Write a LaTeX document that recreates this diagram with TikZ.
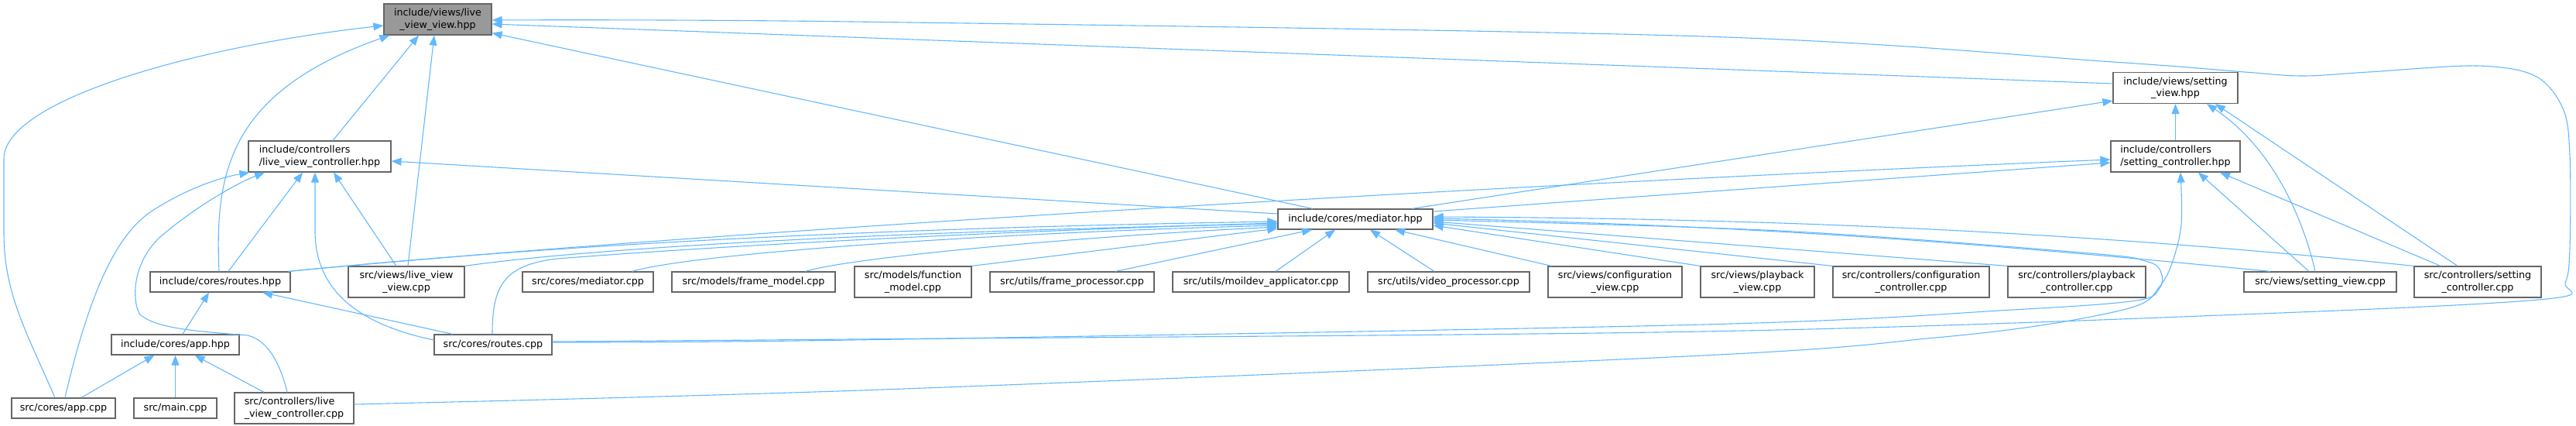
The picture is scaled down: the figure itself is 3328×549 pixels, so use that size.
\documentclass[tikz,border=0pt]{standalone}
\usepackage{fontspec}
\setmainfont{DejaVu Sans}
\usetikzlibrary{arrows.meta}
\definecolor{edgec}{HTML}{63B8FF}
\definecolor{boxc}{HTML}{666666}
\definecolor{rootc}{HTML}{999999}
\newcommand\dgfont{\fontsize{12.7}{15.5}\selectfont}
\begin{document}
\begin{tikzpicture}[x=1pt,y=-1pt,
  box/.style={draw=boxc, fill=white, line width=1.2pt, inner sep=0pt, minimum height=26pt, font=\dgfont},
  boxtwo/.style={box, minimum height=40pt, align=center},
  boxtwol/.style={box, minimum height=40pt, align=left},
  edge/.style={draw=edgec, line width=1.1pt, -{Triangle[length=13pt,width=10pt]}},
]
\useasboundingbox (0,0) rectangle (3328,549);
% nodes
\node[boxtwo, fill=rootc, minimum width=139pt] (A) at (565.5,25) {include/views/live\\\_view\_view.hpp};
\node[boxtwol, minimum width=184pt] (B) at (413,202) {include/controllers\\/live\_view\_controller.hpp};
\node[box, minimum width=200pt] (C) at (1751,283) {include/cores/mediator.hpp};
\node[boxtwo, minimum width=161pt] (D) at (2810.5,113.5) {include/views/setting\\\_view.hpp};
\node[boxtwol, minimum width=167pt] (E) at (2810.5,202) {include/controllers\\/setting\_controller.hpp};
\node[box, minimum width=181pt] (F) at (284.5,364) {include/cores/routes.hpp};
\node[box, minimum width=165pt] (G) at (226.5,445) {include/cores/app.hpp};
\node[box, minimum width=134pt] (H) at (82,527) {src/cores/app.cpp};
\node[box, minimum width=107pt] (I) at (226.5,527) {src/main.cpp};
\node[boxtwol, minimum width=154pt] (J) at (380,527) {src/controllers/live\\\_view\_controller.cpp};
\node[box, minimum width=152pt] (K) at (637,445) {src/cores/routes.cpp};
\node[boxtwo, minimum width=150pt] (L) at (525,364) {src/views/live\_view\\\_view.cpp};
\node[box, minimum width=169pt] (M) at (759.5,364) {src/cores/mediator.cpp};
\node[box, minimum width=211pt] (N) at (973.5,364) {src/models/frame\_model.cpp};
\node[boxtwo, minimum width=151pt] (O) at (1179.5,364) {src/models/function\\\_model.cpp};
\node[box, minimum width=212pt] (P) at (1385,364) {src/utils/frame\_processor.cpp};
\node[box, minimum width=228pt] (Q) at (1629,364) {src/utils/moildev\_applicator.cpp};
\node[box, minimum width=209pt] (R) at (1871.5,364) {src/utils/video\_processor.cpp};
\node[boxtwo, minimum width=173pt] (S) at (2086.5,364) {src/views/configuration\\\_view.cpp};
\node[boxtwo, minimum width=147pt] (T) at (2270.5,364) {src/views/playback\\\_view.cpp};
\node[boxtwo, minimum width=202pt] (U) at (2469,364) {src/controllers/configuration\\\_controller.cpp};
\node[boxtwo, minimum width=178pt] (V) at (2683,364) {src/controllers/playback\\\_controller.cpp};
\node[box, minimum width=197pt] (W) at (2997.5,364) {src/views/setting\_view.cpp};
\node[boxtwo, minimum width=164pt] (X) at (3201,364) {src/controllers/setting\\\_controller.cpp};
% edges
\draw[edge] ([xshift=-11pt]H.north) .. controls (35,430) and (5,380) .. (5,300) -- (5,205) .. controls (5,130) and (250,60) .. ([yshift=-8pt]A.west);
\draw[edge] ([xshift=2pt]H.north) .. controls (115,380) and (150,300) .. (200,270) .. controls (240,245) and (280,230) .. ([xshift=2pt]B.south west);
\draw[edge] ([xshift=23pt]H.north) -- ([xshift=-27pt]G.south);
\draw[edge] (I.north) -- (G.south);
\draw[edge] ([xshift=-39pt]J.north) -- ([xshift=25pt]G.south);
\draw[edge] ([xshift=-9pt]J.north) .. controls (365,480) and (350,440) .. (320,433) .. controls (260,428) and (200,425) .. (180,405) .. controls (168,380) and (175,330) .. (214,300) .. controls (260,262) and (310,235) .. ([xshift=-71pt]B.south);
\draw[edge] ([xshift=-52pt]K.north) -- ([xshift=54.5pt]F.south);
\draw[edge] ([yshift=6pt]K.west) .. controls (470,420) and (408,380) .. (407,300) -- ([xshift=-6pt]B.south);
\draw[edge] ([xshift=2pt]L.north) -- ([xshift=-4.5pt]A.south);
\draw[edge] ([xshift=-13pt]L.north) -- ([xshift=18pt]B.south);
\draw[edge] ([xshift=-1.5pt]F.north) .. controls (278,230) and (290,120) .. ([xshift=-62pt]A.south);
\draw[edge] ([xshift=10.5pt]F.north) -- ([xshift=-22pt]B.south);
\draw[edge] ([xshift=9.5pt]G.north) -- ([xshift=-14.5pt]F.south);
\draw[edge] ([xshift=17pt]B.north) -- ([xshift=-24.5pt]A.south);
\draw[edge] ([yshift=7pt]C.west) -- ([yshift=-6pt]B.east);
\draw[edge] ([xshift=-55pt]C.north) -- ([yshift=3pt]A.south east);
\draw[edge] ([yshift=5.5pt]D.west) -- ([yshift=-6pt]A.east);
\draw[edge] plot[smooth, tension=0.55] coordinates {([yshift=4pt]K.east) (1100,438) (2200,428) (2920,405) (3290,386) (3314,365) (3320,320) (3320,200) (3311,140) (3275,98) (3200,85) (3060,93) (2975,98) (2900,93) (2730,80) (2200,47) (1100,28) ([yshift=-1pt]A.east)};
\draw[edge] plot[smooth, tension=0.55] coordinates {([yshift=3pt]K.east) (1100,439) (2200,419) (2600,400) (2760,388) (2790,372) (2792,352) (2775,338) (2700,327) (2300,298) ([yshift=-1pt]C.east)};
\draw[edge] ([xshift=-1pt]K.north) .. controls (636,370) and (650,342) .. (720,334) .. controls (1000,312) and (1400,295) .. ([yshift=-5pt]C.west);
\draw[edge] ([xshift=-3pt]F.north east) .. controls (700,318) and (1100,295) .. ([yshift=-3pt]C.west);
\draw[edge] ([xshift=-3pt]F.north east) .. controls (900,300) and (1900,240) .. ([yshift=-4pt]E.west);
\draw[edge] (L.north east) .. controls (750,322) and (1100,300) .. ([yshift=-6pt]C.west);
\draw[edge] ([xshift=57pt]M.north) .. controls (900,326) and (1300,300) .. ([yshift=-8pt]C.west);
\draw[edge] ([xshift=67pt]N.north) .. controls (1100,332) and (1400,305) .. ([yshift=-10pt]C.west);
\draw[edge] (O.north east) -- ([yshift=-12pt]C.west);
\draw[edge] ([xshift=56pt]P.north) -- ([xshift=-56pt]C.south);
\draw[edge] ([xshift=19pt]Q.north) -- ([xshift=-26pt]C.south);
\draw[edge] ([xshift=-18.5pt]R.north) -- ([xshift=19pt]C.south);
\draw[edge] ([xshift=5pt]S.north west) -- ([xshift=51pt]C.south);
\draw[edge] (T.north west) -- ([yshift=-8pt]C.east);
\draw[edge] (U.north west) -- ([yshift=-5pt]C.east);
\draw[edge] (V.north west) -- ([yshift=-3pt]C.east);
\draw[edge] ([xshift=-64.5pt]W.north) .. controls (2600,318) and (2300,292) .. ([yshift=1pt]C.east);
\draw[edge] (X.north west) .. controls (2700,300) and (2300,282) .. ([yshift=3pt]C.east);
\draw[edge] ([xshift=73pt]C.north) -- ([yshift=4pt]D.south west);
\draw[edge] ([yshift=10pt]C.east) -- ([yshift=-8pt]E.west);
\draw[edge] (E.north) -- (D.south);
\draw[edge] ([xshift=-6.5pt]W.north) .. controls (2975,280) and (2935,190) .. ([xshift=40.5pt]D.south);
\draw[edge] ([xshift=-14.5pt]W.north) -- ([xshift=29.5pt]E.south);
\draw[edge] ([xshift=-26pt]X.north) -- ([xshift=51.5pt]D.south);
\draw[edge] ([xshift=-48pt]X.north) -- ([xshift=57.5pt]E.south);
\draw[edge] plot[smooth, tension=0.55] coordinates {([yshift=5pt]J.east) (1140,503) (2200,459) (2500,436) (2650,418) (2760,395) (2790,370) (2806,340) (2818,290) ([xshift=6.5pt]E.south)};
\end{tikzpicture}
\end{document}
